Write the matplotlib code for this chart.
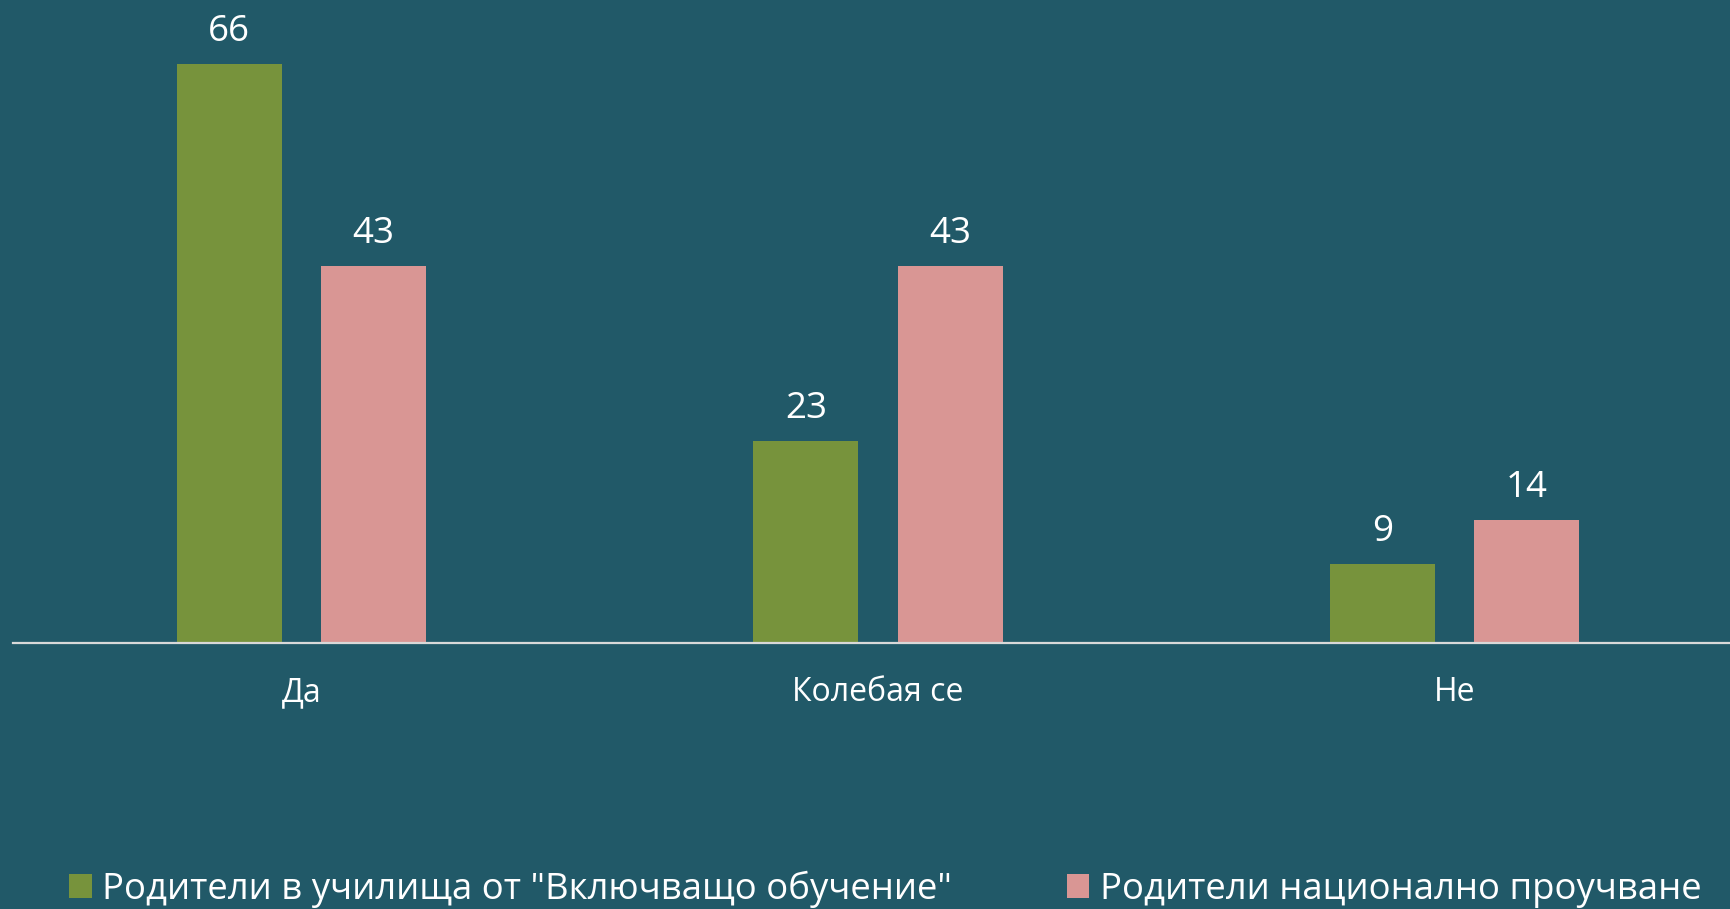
import matplotlib
matplotlib.use("Agg")
import matplotlib.pyplot as plt
import numpy as np

categories = ["Да", "Колебая се", "Не"]
series_names = ['Родители в училища от "Включващо обучение"', "Родители национално проучване"]
inclusive = [66, 23, 9]
national = [43, 43, 14]

bg = "#215968"
green = "#77933C"
pink = "#D99694"

plt.rcParams["font.family"] = ["Open Sans", "DejaVu Sans"]

fig = plt.figure(figsize=(17.31, 9.09), dpi=100, facecolor=bg)
ax = fig.add_axes([13 / 1731, 266.5 / 909, 1730 / 1731, 1 - 266.5 / 909])
ax.set_facecolor(bg)

x = np.arange(len(categories))
w = 0.182
b1 = ax.bar(x - 0.125, inclusive, w, color=green, label=series_names[0])
b2 = ax.bar(x + 0.125, national, w, color=pink, label=series_names[1])
for b in (b1, b2):
    ax.bar_label(b, padding=10, color="white", fontsize=26.5)

ax.set_xlim(-0.5, 2.5)
ax.set_ylim(0, 73.3)
ax.set_yticks([])
ax.set_xticks(x)
ax.set_xticklabels(categories, color="white", fontsize=23)
ax.tick_params(axis="x", length=0, pad=24)
for s in ["top", "right", "left"]:
    ax.spines[s].set_visible(False)
ax.spines["bottom"].set_color("#D9D9D9")
ax.spines["bottom"].set_linewidth(1.6)

leg = fig.legend(handles=[b1, b2], loc="lower left", bbox_to_anchor=(36 / 1731, -0.035),
                 ncol=2, frameon=False, fontsize=26.3, handlelength=0.62, handleheight=0.62,
                 handletextpad=0.3, columnspacing=3.13)
for t in leg.get_texts():
    t.set_color("white")

fig.savefig("out.png", dpi=100, facecolor=bg)
